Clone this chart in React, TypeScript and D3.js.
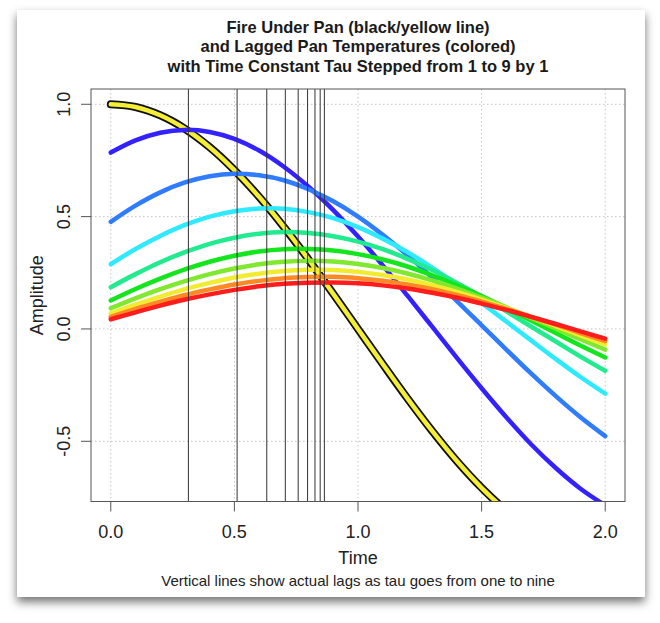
import React from "react";
import * as d3 from "d3";

// time axis (sampled every 0.1)
const time = [0, 0.1, 0.2, 0.3, 0.4, 0.5, 0.6, 0.7, 0.8, 0.9, 1.0, 1.1, 1.2, 1.3, 1.4, 1.5, 1.6, 1.7, 1.8, 1.9, 2.0];

// fire under the pan
const fire = [1, 0.988, 0.951, 0.891, 0.809, 0.707, 0.588, 0.454, 0.309, 0.156, 0, -0.156, -0.309, -0.454, -0.588, -0.707, -0.809, -0.891, -0.951, -0.988, -1];

// lagged pan temperatures, tau = 1..9
const tau1 = [0.785, 0.839, 0.873, 0.886, 0.877, 0.846, 0.794, 0.722, 0.633, 0.529, 0.411, 0.283, 0.148, 0.010, -0.129, -0.264, -0.393, -0.513, -0.619, -0.711, -0.785];
const tau2 = [0.477, 0.549, 0.608, 0.652, 0.680, 0.691, 0.684, 0.662, 0.622, 0.568, 0.500, 0.419, 0.328, 0.229, 0.124, 0.016, -0.092, -0.198, -0.299, -0.393, -0.477];
const tau3 = [0.288, 0.356, 0.414, 0.463, 0.500, 0.524, 0.536, 0.535, 0.520, 0.493, 0.453, 0.402, 0.342, 0.273, 0.197, 0.116, 0.033, -0.051, -0.134, -0.214, -0.288];
const tau4 = [0.186, 0.244, 0.297, 0.342, 0.379, 0.406, 0.424, 0.431, 0.427, 0.413, 0.389, 0.355, 0.312, 0.262, 0.205, 0.144, 0.078, 0.011, -0.056, -0.123, -0.186];
const tau5 = [0.127, 0.178, 0.224, 0.265, 0.299, 0.326, 0.345, 0.355, 0.356, 0.349, 0.333, 0.309, 0.278, 0.239, 0.195, 0.146, 0.093, 0.038, -0.018, -0.074, -0.127];
const tau6 = [0.092, 0.136, 0.177, 0.213, 0.244, 0.269, 0.288, 0.299, 0.303, 0.300, 0.289, 0.271, 0.247, 0.216, 0.180, 0.139, 0.096, 0.049, 0.002, -0.046, -0.092];
const tau7 = [0.069, 0.108, 0.144, 0.177, 0.205, 0.229, 0.246, 0.258, 0.263, 0.262, 0.254, 0.240, 0.220, 0.195, 0.165, 0.131, 0.093, 0.054, 0.013, -0.029, -0.069];
const tau8 = [0.054, 0.089, 0.121, 0.151, 0.176, 0.198, 0.214, 0.226, 0.231, 0.232, 0.226, 0.215, 0.198, 0.177, 0.151, 0.122, 0.089, 0.054, 0.019, -0.018, -0.054];
const tau9 = [0.043, 0.074, 0.104, 0.131, 0.154, 0.174, 0.190, 0.201, 0.206, 0.207, 0.203, 0.194, 0.180, 0.161, 0.139, 0.113, 0.085, 0.054, 0.022, -0.011, -0.043];
const lagged = [tau1, tau2, tau3, tau4, tau5, tau6, tau7, tau8, tau9];
const lagColors = ["#3322ff", "#2f7cff", "#2eeaff", "#22ea8e", "#14e61e", "#80e82e", "#f2ec30", "#ff8a24", "#ff1c1c"];

// actual lags (vertical lines)
const lagTimes = [0.314, 0.511, 0.631, 0.706, 0.758, 0.796, 0.826, 0.847, 0.864];

const xTicks = [0, 0.5, 1, 1.5, 2];
const yTicks = [-0.5, 0, 0.5, 1];
const titleLines = [
  "Fire Under Pan (black/yellow line)",
  "and Lagged Pan Temperatures (colored)",
  "with Time Constant Tau Stepped from 1 to 9 by 1",
];

const font = '"Liberation Sans", Arial, Helvetica, sans-serif';

export default function App() {
  const width = 660;
  const height = 623;
  const plot = { left: 91, right: 625, top: 89, bottom: 501.5 };
  const cx = (plot.left + plot.right) / 2;

  const x = d3.scaleLinear().domain([-0.08, 2.08]).range([plot.left, plot.right]);
  const y = d3.scaleLinear().domain([-0.768, 1.068]).range([plot.bottom, plot.top]);

  const line = d3
    .line<number>()
    .x((_, i) => x(time[i]))
    .y((d) => y(d))
    .curve(d3.curveCatmullRom.alpha(0.5));

  return (
    <svg
      width={width}
      height={height}
      style={{ position: "absolute", left: 0, top: 0, background: "#fff" }}
      fontFamily={font}
    >
      <defs>
        <filter id="shadow" x="-10%" y="-10%" width="120%" height="120%">
          <feDropShadow dx="0" dy="5" stdDeviation="5" floodColor="#000" floodOpacity="0.55" />
        </filter>
        <clipPath id="plotClip">
          <rect x={plot.left} y={plot.top} width={plot.right - plot.left} height={plot.bottom - plot.top} />
        </clipPath>
      </defs>

      {/* card */}
      <rect x={17} y={10} width={628} height={587} fill="#fff" filter="url(#shadow)" />

      {/* grid */}
      <g stroke="#c4c4c4" strokeWidth={1} strokeDasharray="1.5 2.5">
        {xTicks.map((t) => (
          <line key={"gx" + t} x1={x(t)} x2={x(t)} y1={plot.top} y2={plot.bottom} />
        ))}
        {yTicks.map((v) => (
          <line key={"gy" + v} x1={plot.left} x2={plot.right} y1={y(v)} y2={y(v)} />
        ))}
      </g>

      <g clipPath="url(#plotClip)" fill="none" strokeLinecap="round" strokeLinejoin="round">
        {/* fire line */}
        <path d={line(fire) ?? ""} stroke="#111" strokeWidth={8} />
        <path d={line(fire) ?? ""} stroke="#f4ee35" strokeWidth={4.5} />

        {/* lagged lines */}
        {lagged.map((vals, k) => (
          <path key={"lag" + k} d={line(vals) ?? ""} stroke={lagColors[k]} strokeWidth={4.5} />
        ))}

        {/* actual lag markers */}
        {lagTimes.map((t, k) => (
          <line key={"v" + k} x1={x(t)} x2={x(t)} y1={plot.top} y2={plot.bottom} stroke="#333" strokeWidth={1} />
        ))}
      </g>

      {/* box */}
      <rect
        x={plot.left}
        y={plot.top}
        width={plot.right - plot.left}
        height={plot.bottom - plot.top}
        fill="none"
        stroke="#555"
        strokeWidth={1}
      />

      {/* x axis */}
      <g fill="#222" fontSize={18} textAnchor="middle">
        {xTicks.map((t) => (
          <g key={"xt" + t}>
            <line x1={x(t)} x2={x(t)} y1={plot.bottom} y2={plot.bottom + 10} stroke="#555" />
            <text x={x(t)} y={538}>
              {t.toFixed(1)}
            </text>
          </g>
        ))}
      </g>

      {/* y axis */}
      <g fill="#222" fontSize={18} textAnchor="middle">
        {yTicks.map((v) => (
          <g key={"yt" + v}>
            <line x1={plot.left - 10} x2={plot.left} y1={y(v)} y2={y(v)} stroke="#555" />
            <text transform={`translate(70, ${y(v)}) rotate(-90)`}>{v.toFixed(1)}</text>
          </g>
        ))}
      </g>

      {/* labels */}
      <text x={cx} y={563.5} fontSize={18} textAnchor="middle" fill="#222">
        Time
      </text>
      <text transform={`translate(43, ${(plot.top + plot.bottom) / 2}) rotate(-90)`} fontSize={18} textAnchor="middle" fill="#222">
        Amplitude
      </text>
      <text x={cx} y={586} fontSize={15} textAnchor="middle" fill="#222">
        Vertical lines show actual lags as tau goes from one to nine
      </text>

      {/* title */}
      <g fontSize={16.5} fontWeight="bold" textAnchor="middle" fill="#1a1a1a">
        {titleLines.map((s, i) => (
          <text key={"t" + i} x={cx} y={32.7 + i * 19.7}>
            {s}
          </text>
        ))}
      </g>
    </svg>
  );
}
